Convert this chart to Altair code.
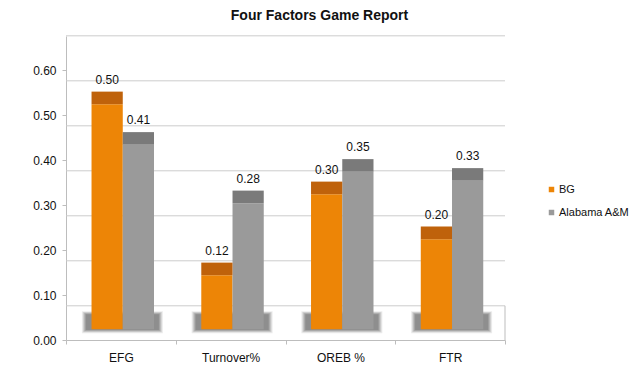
import altair as alt
import pandas as pd

# ---- data ----
categories = ["EFG", "Turnover%", "OREB %", "FTR"]
teams = ["BG", "Alabama A&M"]
bg_values = [0.50, 0.12, 0.30, 0.20]
am_values = [0.41, 0.28, 0.35, 0.33]
y_ticks = [0.0, 0.1, 0.2, 0.3, 0.4, 0.5, 0.6]
wall_lines = [0.1, 0.2, 0.3, 0.4, 0.5, 0.6, 0.7]

# ---- style constants (pseudo-3D look) ----
DEPTH = 0.024   # vertical shift of front faces / back wall
CAP = 0.028     # height of the darker bar top
Y_MAX = 0.6756
ORANGE = "#ED8506"
ORANGE_DARK = "#BF620B"
GRAY = "#9A9A9A"
GRAY_DARK = "#7A7A7A"
FONT = "Liberation Sans"

rows = []
for c, b, a in zip(categories, bg_values, am_values):
    rows.append({"cat": c, "team": "BG", "value": b})
    rows.append({"cat": c, "team": "Alabama A&M", "value": a})
df = pd.DataFrame(rows)

yscale = alt.Scale(domain=[0, Y_MAX], nice=False, zero=True)
xscale = alt.Scale(domain=categories, paddingInner=0, paddingOuter=0)
oscale = alt.Scale(domain=teams, paddingInner=0, paddingOuter=0.757, align=0.54)

x_axis = alt.Axis(title=None, labelAngle=0, tickBand="extent", tickSize=4,
                  labelPadding=8, domainColor="#bdbdbd", tickColor="#bdbdbd",
                  labelFont=FONT, labelFontSize=12, labelColor="#111")
y_axis = alt.Axis(title=None, values=y_ticks, format=".2f", tickSize=4,
                  labelPadding=6, domainColor="#bdbdbd", tickColor="#bdbdbd",
                  labelFont=FONT, labelFontSize=12, labelColor="#111", grid=False)

X = alt.X("cat:N", sort=categories, scale=xscale, axis=x_axis)
XO = alt.XOffset("team:N", sort=teams, scale=oscale)

# back-wall gridlines
grid = alt.Chart(pd.DataFrame({"v": wall_lines})).transform_calculate(
    gy=f"datum.v - {DEPTH}"
).mark_rule(color="#cccccc", strokeWidth=1).encode(
    y=alt.Y("gy:Q", scale=yscale, axis=y_axis)
)

# right edge of the floor
floor_edge = alt.Chart(alt.Data(values=[{}])).mark_rule(color="#bdbdbd").encode(
    x=alt.value(439),
    y=alt.datum(0, scale=yscale),
    y2=alt.datum(wall_lines[0] - DEPTH),
)

# soft shadow under each bar pair (concentric rects fake a blur)
def shadow_layer(size, lo, hi, color):
    return alt.Chart(pd.DataFrame({"cat": categories})).mark_bar(
        size=size, xOffset=1.5, color=color
    ).encode(
        x=X,
        y=alt.datum(lo, scale=yscale),
        y2=alt.datum(hi),
    )

shadows = [
    shadow_layer(81, 0.0150, 0.0640, "#ececec"),
    shadow_layer(79, 0.0170, 0.0625, "#d4d4d4"),
    shadow_layer(77, 0.0190, 0.0605, "#bababa"),
    shadow_layer(75, 0.0205, 0.0590, "#a2a2a2"),
    shadow_layer(73, 0.0220, 0.0570, "#8e8e8e"),
]

base = alt.Chart(df).transform_calculate(
    lo=f"{DEPTH}",
    hi=f"datum.value + {DEPTH}",
    top=f"datum.value + {DEPTH + CAP}",
)

front = base.mark_bar().encode(
    x=X, xOffset=XO,
    y=alt.Y("lo:Q", scale=yscale, axis=y_axis),
    y2="hi:Q",
    color=alt.Color("team:N", sort=teams,
                    scale=alt.Scale(domain=teams, range=[ORANGE, GRAY]),
                    legend=alt.Legend(title=None, orient="none", legendX=480, legendY=148,
                                      symbolType="square", symbolSize=30,
                                      symbolStrokeWidth=0,
                                      labelFont=FONT, labelFontSize=11,
                                      labelColor="#111", rowPadding=11,
                                      labelOffset=2, padding=0,
                                      labelLimit=200)),
)

cap = base.mark_bar().encode(
    x=X, xOffset=XO,
    y=alt.Y("hi:Q", scale=yscale, axis=y_axis),
    y2="top:Q",
    fill=alt.Fill("team:N", sort=teams,
                  scale=alt.Scale(domain=teams, range=[ORANGE_DARK, GRAY_DARK]),
                  legend=None),
)

labels = base.mark_text(font=FONT, fontSize=12, color="#111",
                        baseline="alphabetic", dy=-8).encode(
    x=X, xOffset=XO,
    y=alt.Y("top:Q", scale=yscale, axis=y_axis),
    text=alt.Text("value:Q", format=".2f"),
)

chart = alt.layer(grid, floor_edge, *shadows, front, cap, labels).properties(
    width=439, height=304,
    autosize="none",
    padding={"left": 58, "top": 28, "right": 126, "bottom": 24},
    title=alt.TitleParams("Four Factors Game Report", font=FONT, fontSize=14,
                          fontWeight="bold", anchor="middle", dx=34, dy=6,
                          baseline="alphabetic", offset=7, color="#111"),
).configure_view(stroke=None)

chart.save("out.html", embed_options={"renderer": "svg", "actions": False})
